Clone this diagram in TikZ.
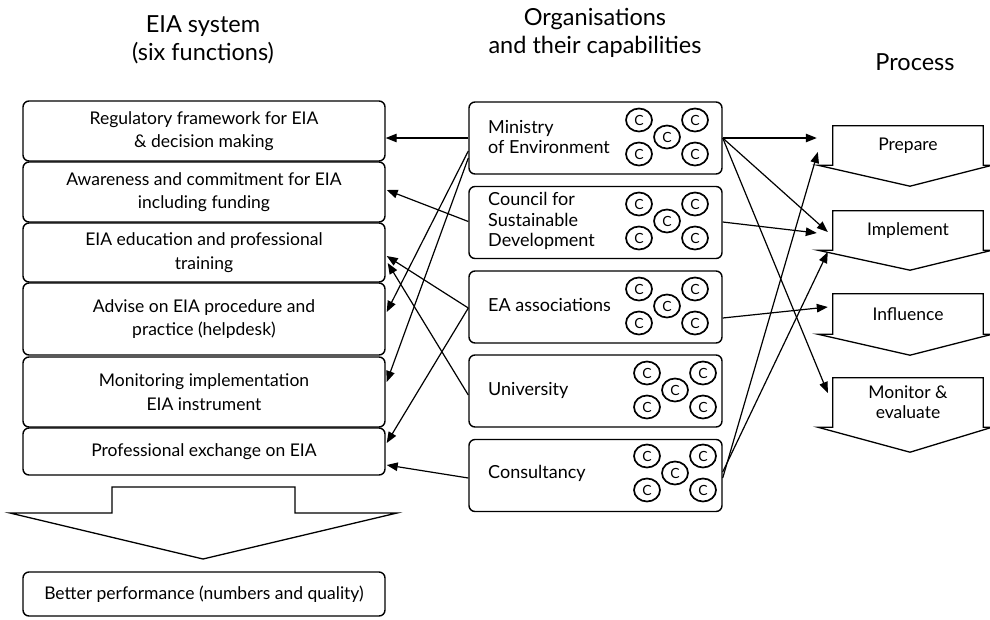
\documentclass[tikz,border=0pt]{standalone}
\usepackage{fontspec}
\setmainfont{Lato}
\usetikzlibrary{calc,arrows.meta,shapes.geometric}
\newcommand\capgroup[3]{%
  \node[capc] (#1-0) at (#2,#3) {C};
  \node[capc] (#1-1) at ($(#2,#3)+(-28,-17)$) {C};
  \node[capc] (#1-2) at ($(#2,#3)+(28,-17)$) {C};
  \node[capc] (#1-3) at ($(#2,#3)+(-28,17)$) {C};
  \node[capc] (#1-4) at ($(#2,#3)+(28,17)$) {C};
}
\begin{document}
\begin{tikzpicture}[x=1pt,y=-1pt,
  fbox/.style={draw, line width=1.4pt, rounded corners=6pt, minimum width=362pt, align=center,
    font=\fontsize{17.5}{23.5}\selectfont, inner sep=0pt},
  obox/.style={draw, line width=1.4pt, rounded corners=6pt, minimum width=253pt, minimum height=72pt, inner sep=0pt},
  olabel/.style={anchor=west, align=left, inner sep=0pt, font=\fontsize{18}{20.5}\selectfont},
  capc/.style={draw, ellipse, line width=1.7pt, minimum width=26pt, minimum height=23pt, inner sep=0pt,
    font=\fontsize{14}{14}\selectfont},
  arr/.style={-{Triangle[length=11pt,width=8.5pt]}, line width=1.2pt},
  ttl/.style={align=center, inner sep=0pt, font=\fontsize{23.5}{28}\selectfont},
  plabel/.style={inner sep=0pt, minimum width=150pt, align=center, font=\fontsize{17.5}{20}\selectfont},
  pshape/.style={draw, line width=1.3pt, line join=miter},
]
\useasboundingbox (0,0) rectangle (990,619);

% titles
\node[ttl] (t1) at (203,39.5) {EIA system\\(six functions)};
\node[ttl] (t2) at (595,33) {Organisations\\and their capabilities};
\node[ttl] (t3) at (915,62) {Process};

% left functions
\node[fbox, minimum height=60pt] (b1) at (204,131) {Regulatory framework for EIA\\ \& decision making};
\node[fbox, minimum height=60pt] (b2) at (204,192) {Awareness and commitment for EIA\\including funding};
\node[fbox, minimum height=59pt] (b3) at (204,252.5) {EIA education and professional\\training};
\node[fbox, minimum height=72pt] (b4) at (204,319) {Advise on EIA procedure and\\practice (helpdesk)};
\node[fbox, minimum height=70pt] (b5) at (204,392) {Monitoring implementation\\EIA instrument};
\node[fbox, minimum height=47pt] (b6) at (204,451.5) {Professional exchange on EIA};
\node[fbox, minimum height=44pt] (bp) at (204,594) {Better performance (numbers and quality)};

% big down arrow
\draw[pshape] (10,513) -- (112,513) -- (112,487) -- (295,487) -- (295,513) -- (397,513) -- (203,559) -- cycle;

% organisations
\node[obox] (m1) at (595.5,138) {};
\node[obox] (m2) at (595.5,222.5) {};
\node[obox] (m3) at (595.5,307) {};
\node[obox] (m4) at (595.5,391) {};
\node[obox] (m5) at (595.5,475.5) {};
\node[olabel] (m1t) at (488,137) {Ministry\\of Environment};
\node[olabel] (m2t) at (488,221) {Council for\\Sustainable\\Development};
\node[olabel] (m3t) at (488,305) {EA associations};
\node[olabel] (m4t) at (488,390) {University};
\node[olabel] (m5t) at (488,473) {Consultancy};
\capgroup{c1}{667}{137}
\capgroup{c2}{667}{221}
\capgroup{c3}{667}{306}
\capgroup{c4}{675}{390}
\capgroup{c5}{675}{473}

% process
\node[plabel, minimum height=39pt] (p1) at (908,145.5) {Prepare};
\node[plabel, minimum height=39pt] (p2) at (908,230.5) {Implement};
\node[plabel, minimum height=40pt] (p3) at (908,314) {Influence};
\node[plabel, minimum height=49pt] (p4) at (908,402.5) {Monitor \&\\evaluate};
\foreach \p/\t in {p1/21, p2/20, p3/21, p4/25}{
  \draw[pshape] ($(\p.south west)+(-15,0)$) -- (\p.south west) -- (\p.north west) -- (\p.north east)
    -- (\p.south east) -- ($(\p.south east)+(9,0)$) -- ($(\p.south)+(2,\t)$) -- cycle;
}

% connectors to functions
\draw[arr] (m1.west) -- (m1.west -| b1.east);
\draw[arr] ($(m2.west)+(0,-1)$) -- ($(b2.east)+(1,-2)$);
\draw[arr] ($(m1.west)+(0,13)$) -- ($(b4.east)+(1,-7)$);
\draw[arr] ($(m1.west)+(0,20)$) -- ($(b5.east)+(1,-10)$);
\draw[arr] ($(m3.west)+(0,1)$) -- ($(b3.east)+(1,3.5)$);
\draw[arr] ($(m3.west)+(0,1)$) -- ($(b6.east)+(1,-8.5)$);
\draw[arr] ($(m4.west)+(0,4)$) -- ($(b3.east)+(2,10.5)$);
\draw[arr] ($(m5.west)+(0,2.5)$) -- ($(b6.east)+(1,13.5)$);

% connectors to process
\draw[arr] (m1.east) -- ($(p1.west)+(-16,-7.5)$);
\draw[arr] (m1.east) -- ($(p2.west)+(-5,1.5)$);
\draw[arr] (m1.east) -- ($(p4.west)+(-5,-9.5)$);
\draw[arr] ($(m2.east)+(0,-0.5)$) -- ($(p2.west)+(-16,2.5)$);
\draw[arr] ($(m3.east)+(0,11)$) -- ($(p3.west)+(-5,-7)$);
\draw[arr] ($(m5.east)+(0,2.5)$) -- ($(p1.west)+(-15,6.5)$);
\draw[arr] ($(m5.east)+(0,-3.5)$) -- ($(p2.west)+(-5,21.5)$);
\end{tikzpicture}
\end{document}
